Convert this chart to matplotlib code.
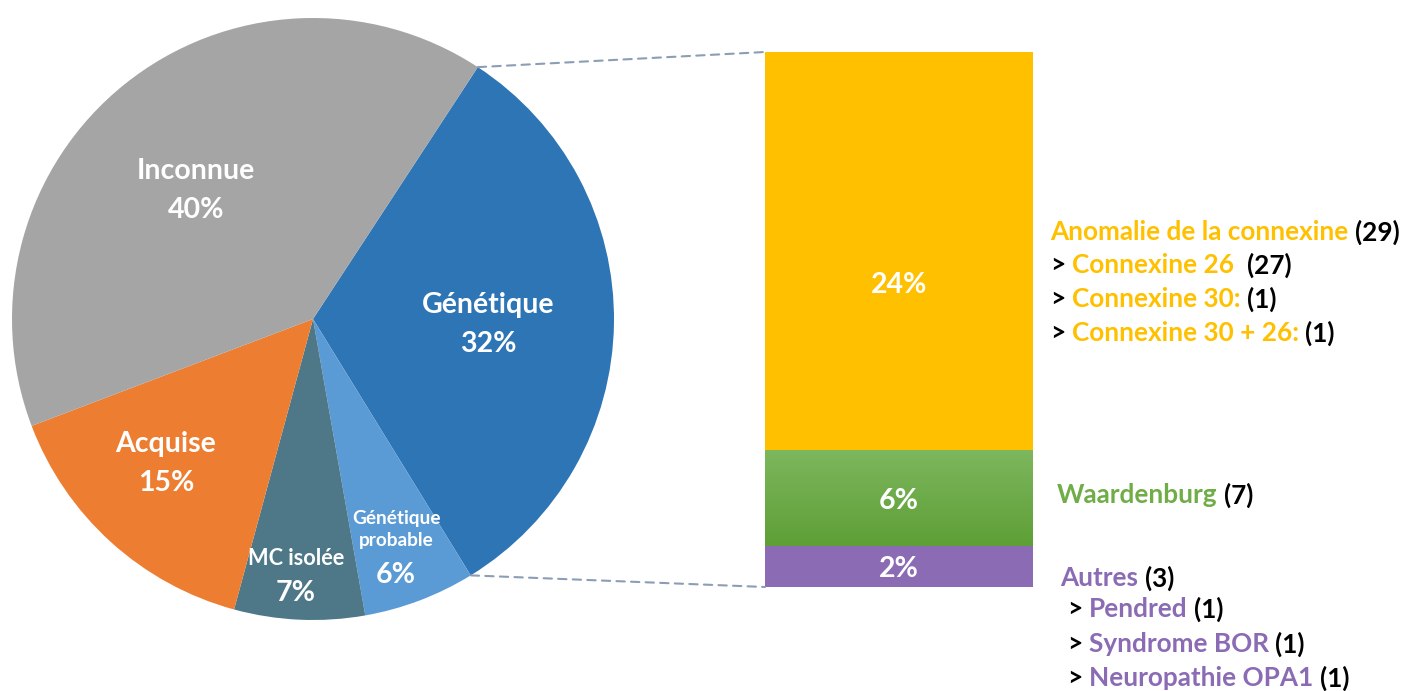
import numpy as np
import matplotlib
matplotlib.use("Agg")
from matplotlib import pyplot as plt
from matplotlib.patches import ConnectionPatch
from matplotlib.colors import LinearSegmentedColormap

plt.rcParams['font.family'] = ['Lato', 'DejaVu Sans']
plt.rcParams['font.weight'] = 'bold'

# pie data
pie_names = ['Génétique', 'Génétique\nprobable', 'MC isolée', 'Acquise', 'Inconnue']
pie_values = [32, 6, 7, 15, 40]
pie_colors = ['#2E75B6', '#5B9BD5', '#4E7888', '#ED7D31', '#A5A5A5']

# bar data (counts inside the genetic slice)
bar_counts = [3, 7, 29]           # Autres, Waardenburg, Connexine (bottom to top)
bar_pcts = ['2%', '6%', '24%']
bar_colors = ['#8A6BB4', '#6FAD47', '#FFC000']

W, H = 1404, 691
fig = plt.figure(figsize=(W / 100, H / 100), dpi=100)

# ---- pie ----
R = 301
cx, cy = 313, 319
axp = fig.add_axes([(cx - R) / W, (H - cy - R) / H, 2 * R / W, 2 * R / H])
start = 56.8
wedges, _ = axp.pie(pie_values, colors=pie_colors, startangle=start, counterclock=False,
                    radius=1, wedgeprops=dict(linewidth=0))
axp.set_xlim(-1, 1)
axp.set_ylim(-1, 1)
axp.set_aspect('equal')
axp.axis('off')

# label placement (radius, angle offset, name/pct offsets in px)
lab_r = [0.581, 0.80, 0.846, 0.678, 0.585]
lab_da = [-0.3, -0.6, -1.2, -3.9, 2.9]
name_dy = [17, 15.5, 14.5, 17, 17]
pct_dy = [-22, -30.5, -19.5, -22, -22]
name_size = [20.5, 13.7, 15.7, 20.5, 20.5]
total = sum(pie_values)
a0 = start
for i, v in enumerate(pie_values):
    span = v / total * 360
    mid = np.deg2rad(a0 - span / 2 + lab_da[i])
    a0 -= span
    x, y = lab_r[i] * np.cos(mid), lab_r[i] * np.sin(mid)
    axp.text(x, y + name_dy[i] / R, pie_names[i], ha='center', va='center', color='white',
             fontsize=name_size[i], fontweight='bold', linespacing=1.3)
    axp.text(x, y + pct_dy[i] / R, f'{v}%', ha='center', va='center', color='white',
             fontsize=20.5, fontweight='bold')

# ---- bar ----
bx0, bx1, by0, by1 = 765, 1033, 52, 587
axb = fig.add_axes([bx0 / W, (H - by1) / H, (bx1 - bx0) / W, (by1 - by0) / H])
bottoms = np.cumsum([0] + bar_counts[:-1])
bars = axb.bar(0, bar_counts, bottom=bottoms, width=1, align='edge', color=bar_colors, linewidth=0)

# green gradient
grad = LinearSegmentedColormap.from_list('g', ['#5E9F36', '#7DB75E'])
gb = bars[1]
im = axb.imshow(np.linspace(0, 1, 100).reshape(-1, 1), cmap=grad, aspect='auto', origin='lower',
                extent=[0, 1, gb.get_y(), gb.get_y() + gb.get_height()], zorder=2)
im.set_clip_path(gb)
axb.set_xlim(0, 1)
axb.set_ylim(0, sum(bar_counts))
axb.axis('off')

lab_frac = [0.43, 0.47, 0.415]
for b, p, f in zip(bars, bar_pcts, lab_frac):
    axb.text(0.5, b.get_y() + b.get_height() * f, p, ha='center', va='center',
             color='white', fontsize=20.5, fontweight='bold', zorder=3)

# dashed connectors
th = np.deg2rad(start)
th2 = np.deg2rad(start - pie_values[0] / total * 360)
for (px, py), (qx, qy) in [((np.cos(th), np.sin(th)), (0, 1)), ((np.cos(th2), np.sin(th2)), (0, 0))]:
    con = ConnectionPatch(xyA=(px, py), coordsA=axp.transData, xyB=(qx, qy), coordsB=axb.transAxes,
                          color='#8C9DB5', linestyle=(0, (4, 3)), linewidth=1.5)
    fig.add_artist(con)

# ---- side labels ----
yellow, green, purple, black = '#FFC000', '#70AD47', '#8A6BB4', 'black'
side = [
    (1050, 232, [('Anomalie de la connexine', yellow), ('(29)', black)]),
    (1050, 265, [('>', black), ('Connexine 26 ', yellow), ('(27)', black)]),
    (1050, 299, [('>', black), ('Connexine 30:', yellow), ('(1)', black)]),
    (1050, 333, [('>', black), ('Connexine 30 + 26:', yellow), ('(1)', black)]),
    (1057, 495, [('Waardenburg', green), ('(7)', black)]),
    (1060, 578, [('Autres', purple), ('(3)', black)]),
    (1067, 609, [('>', black), ('Pendred', purple), ('(1)', black)]),
    (1067, 644, [('>', black), ('Syndrome BOR', purple), ('(1)', black)]),
    (1067, 678, [('>', black), ('Neuropathie OPA1', purple), ('(1)', black)]),
]
fs = 18.8
sp = 0.25 * fs / 0.72
renderer = fig.canvas.get_renderer()
for x, y, parts in side:
    for s, c in parts:
        t = fig.text(x / W, 1 - y / H, s, color=c, fontsize=fs, fontweight='bold',
                     ha='left', va='center')
        bb = t.get_window_extent(renderer)
        x = bb.x1 + sp

fig.savefig('out.png', dpi=100)
